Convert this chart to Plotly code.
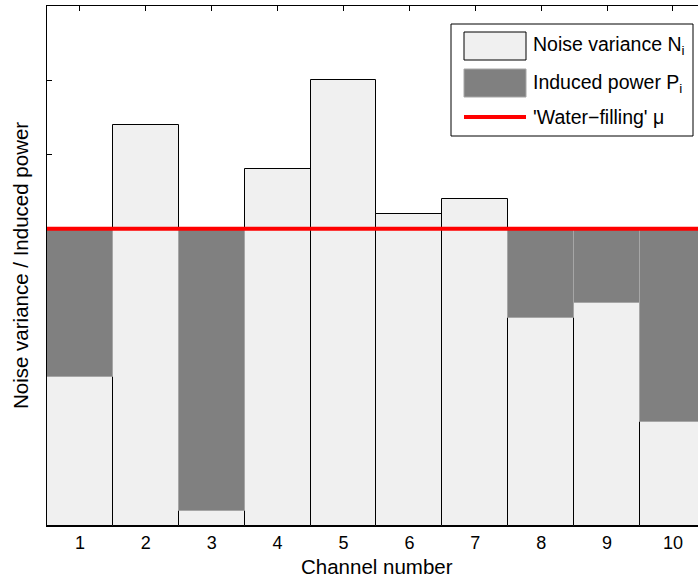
import plotly.graph_objects as go

channels = [1, 2, 3, 4, 5, 6, 7, 8, 9, 10]
noise_variance = [2.0, 5.4, 0.2, 4.8, 6.0, 4.2, 4.4, 2.8, 3.0, 1.4]
induced_power = [2.0, 0.0, 3.8, 0.0, 0.0, 0.0, 0.0, 1.2, 1.0, 2.6]
water_level = 4.0
y_ticks = [0, 1, 2, 3, 4, 5, 6, 7]

FONT = "Liberation Sans, Arial, Helvetica, sans-serif"

fig = go.Figure()
fig.add_bar(x=channels, y=noise_variance, base=[0] * len(channels), width=1,
            marker=dict(color="#f0f0f0", line=dict(color="black", width=1)))
fig.add_bar(x=channels, y=[p if p > 0 else None for p in induced_power],
            base=noise_variance, width=1,
            marker=dict(color="#808080", line=dict(color="#a6a6a6", width=1)))
fig.add_scatter(x=[0.5, 10.5], y=[water_level, water_level], mode="lines",
                line=dict(color="red", width=4))

L, R, T, B = 47, 0, 6, 56
W, H = 698, 582
PW, PH = W - L - R, H - T - B


def px(x):
    return (x - L) / PW


def py(y):
    return (H - B - y) / PH


shapes = [
    dict(type="rect", xref="paper", yref="paper", x0=px(451), x1=px(693), y0=py(24), y1=py(136),
         line=dict(color="black", width=1), fillcolor="white", layer="above"),
    dict(type="rect", xref="paper", yref="paper", x0=px(464), x1=px(526), y0=py(32), y1=py(60),
         line=dict(color="black", width=1), fillcolor="#f0f0f0", layer="above"),
    dict(type="rect", xref="paper", yref="paper", x0=px(464), x1=px(526), y0=py(69), y1=py(97),
         line=dict(color="#a6a6a6", width=1), fillcolor="#808080", layer="above"),
    dict(type="line", xref="paper", yref="paper", x0=px(464), x1=px(526), y0=py(117), y1=py(117),
         line=dict(color="red", width=4), layer="above"),
]
labels = [("Noise variance N<sub>i</sub>", 46), ("Induced power P<sub>i</sub>", 83),
          ("'Water\u2212filling' \u03bc", 117)]
annotations = [dict(xref="paper", yref="paper", x=px(531), y=py(yy), text=t, showarrow=False,
                    xanchor="left", yanchor="middle", font=dict(family=FONT, size=19.5, color="black"))
               for t, yy in labels]
annotations.append(dict(xref="paper", yref="paper", x=px(20), y=py(266), text="Noise variance / Induced power",
                        textangle=-90, showarrow=False, xanchor="center", yanchor="middle",
                        font=dict(family=FONT, size=20.5, color="black")))
annotations.append(dict(xref="paper", yref="paper", x=px(377), y=py(566), text="Channel number",
                        showarrow=False, xanchor="center", yanchor="middle",
                        font=dict(family=FONT, size=20.5, color="black")))

fig.update_layout(
    width=W, height=H, margin=dict(l=L, r=R, t=T, b=B),
    plot_bgcolor="white", paper_bgcolor="white", showlegend=False,
    barmode="overlay", bargap=0,
    font=dict(family=FONT, size=18, color="black"),
    shapes=shapes, annotations=annotations,
)
fig.update_xaxes(range=[0.5, 10.38], tickvals=channels, ticks="inside", ticklen=5, tickcolor="black",
                 tickfont=dict(family=FONT, size=18),
                 showline=True, linecolor="black", linewidth=1, mirror="ticks", showgrid=False,
                 zeroline=False, layer="below traces")
fig.update_yaxes(range=[0, 7], tickvals=y_ticks, showticklabels=False, ticks="inside", ticklen=5,
                 tickcolor="black", showline=True, linecolor="black", linewidth=1, mirror=False,
                 showgrid=False, zeroline=False, layer="below traces")

fig.write_html("out.html")
